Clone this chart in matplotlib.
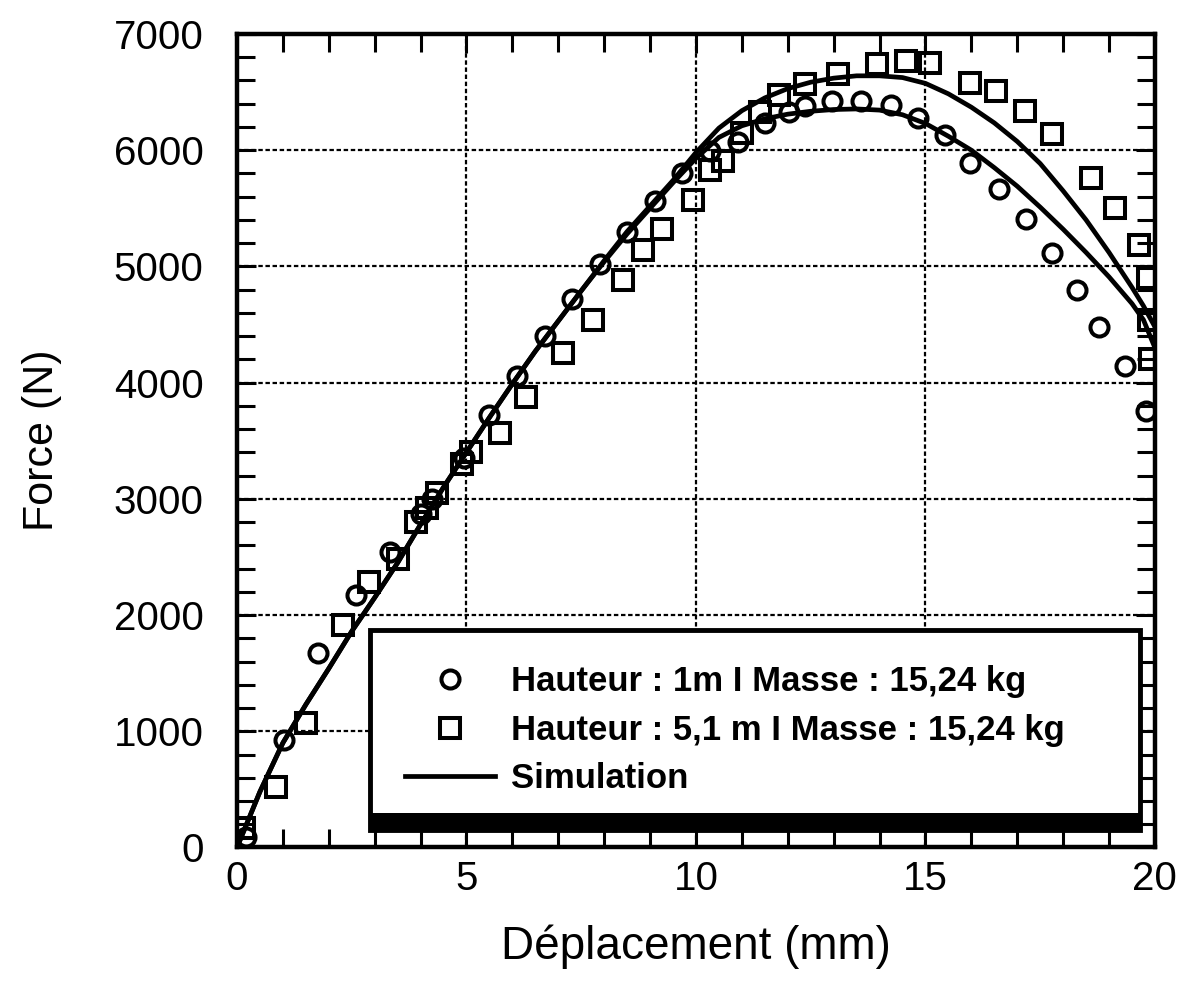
import matplotlib
matplotlib.use("Agg")
import matplotlib.pyplot as plt
from matplotlib.ticker import MultipleLocator, FixedLocator
from matplotlib.patches import Rectangle

plt.rcParams['font.family'] = ['Liberation Sans', 'DejaVu Sans']

# ---------------- data ----------------
x_label = "Déplacement (mm)"
y_label = "Force (N)"
label_h1 = "Hauteur : 1m I Masse : 15,24 kg"
label_h51 = "Hauteur : 5,1 m I Masse : 15,24 kg"
label_sim = "Simulation"

x_ticks = [0, 5, 10, 15, 20]
y_ticks = [0, 1000, 2000, 3000, 4000, 5000, 6000, 7000]

# Hauteur 1 m (circles)
h1_x = [0.2, 1.03, 1.76, 2.59, 3.33, 4.0, 4.25, 4.95, 5.5, 6.1, 6.7, 7.3, 7.9,
        8.5, 9.1, 9.7, 10.3, 10.92, 11.51, 12.03, 12.37, 12.96, 13.6, 14.24,
        14.83, 15.43, 15.98, 16.6, 17.2, 17.75, 18.3, 18.78, 19.35, 19.8]
h1_y = [90, 925, 1670, 2170, 2545, 2870, 3000, 3350, 3720, 4060, 4400, 4720,
        5020, 5300, 5560, 5800, 5990, 6070, 6230, 6330, 6380, 6420, 6420, 6390,
        6275, 6130, 5890, 5670, 5405, 5115, 4800, 4480, 4140, 3760]

# Hauteur 5,1 m (squares)
h51_x = [0.15, 0.85, 1.5, 2.3, 2.88, 3.5, 3.9, 4.15, 4.35, 4.9, 5.1, 5.72, 6.3,
         7.1, 7.75, 8.41, 8.84, 9.27, 9.93, 10.3, 10.6, 11.0, 11.4, 11.81,
         12.37, 13.09, 13.94, 14.58, 15.09, 15.98, 16.54, 17.17, 17.75, 18.6,
         19.13, 19.66, 19.85, 19.88, 19.9]
h51_y = [170, 523, 1068, 1914, 2287, 2480, 2800, 2920, 3050, 3300, 3400, 3563,
         3878, 4251, 4538, 4882, 5140, 5326, 5570, 5830, 5910, 6150, 6330, 6479,
         6566, 6653, 6740, 6769, 6754, 6580, 6508, 6334, 6140, 5760, 5500, 5180,
         4900, 4540, 4200]

# Simulation curves (lower and upper)
simA_x = [0, 0.5, 1.0, 1.5, 2.0, 2.5, 3.0, 3.5, 4.0, 4.5, 5.0, 5.5, 6.0, 6.5,
          7.0, 7.5, 8.0, 8.5, 9.0, 9.5, 10.0, 10.5, 11.0, 11.5, 12.0, 12.5,
          13.0, 13.5, 14.0, 14.5, 15.0, 15.5, 16.0, 16.5, 17.0, 17.5, 18.0,
          18.5, 19.0, 19.5, 19.75, 20.0]
simA_y = [0, 480, 900, 1230, 1540, 1860, 2150, 2450, 2780, 3100, 3400, 3700,
          3990, 4270, 4530, 4790, 5040, 5280, 5500, 5720, 5930, 6110, 6210, 6270,
          6310, 6335, 6350, 6355, 6345, 6305, 6230, 6120, 6000, 5850, 5690, 5510,
          5320, 5120, 4910, 4680, 4540, 4300]
simB_x = [0, 0.5, 1.0, 1.5, 2.0, 2.5, 3.0, 3.5, 4.0, 4.5, 5.0, 5.5, 6.0, 6.5,
          7.0, 7.5, 8.0, 8.5, 9.0, 9.5, 10.0, 10.5, 11.0, 11.5, 12.0, 12.5,
          13.0, 13.5, 14.0, 14.5, 15.0, 15.5, 16.0, 16.5, 17.0, 17.5, 18.0,
          18.5, 19.0, 19.5, 19.75, 20.0]
simB_y = [0, 480, 900, 1230, 1540, 1860, 2150, 2450, 2780, 3100, 3400, 3700,
          3990, 4270, 4530, 4790, 5050, 5300, 5520, 5740, 5980, 6190, 6340, 6450,
          6530, 6585, 6620, 6640, 6640, 6625, 6575, 6485, 6370, 6235, 6075, 5885,
          5650, 5400, 5120, 4820, 4660, 4480]

# ---------------- figure ----------------
fig = plt.figure(figsize=(11.82, 9.85), dpi=100)
ax = fig.add_axes([0.2005, 0.1396, 0.7766, 0.8259])

ax.set_xlim(0, 20)
ax.set_ylim(0, 7000)

ax.grid(True, which='major', color='black', linestyle=(0, (2, 1.2)),
        linewidth=1.6, zorder=1)
ax.set_axisbelow(True)

ax.plot(simA_x, simA_y, color='black', lw=3.4, zorder=3)
ln_sim, = ax.plot(simB_x, simB_y, color='black', lw=3.4, zorder=3, label=label_sim)
ln_h1, = ax.plot(h1_x, h1_y, linestyle='none', marker='o', ms=13,
                 mfc='none', mec='black', mew=2.9, zorder=4, label=label_h1)
ln_h51, = ax.plot(h51_x, h51_y, linestyle='none', marker='s', ms=14,
                  mfc='none', mec='black', mew=2.9, zorder=4, label=label_h51)

ax.xaxis.set_major_locator(FixedLocator(x_ticks))
ax.yaxis.set_major_locator(FixedLocator(y_ticks))
ax.xaxis.set_minor_locator(MultipleLocator(1))
ax.yaxis.set_minor_locator(MultipleLocator(200))
ax.set_xticklabels([str(v) for v in x_ticks])
ax.set_yticklabels([str(v) for v in y_ticks])

ax.tick_params(which='both', direction='in', top=True, right=True,
               width=2.2, color='black')
ax.tick_params(which='major', length=14)
ax.tick_params(which='minor', length=13)
ax.tick_params(axis='x', which='major', labelsize=29, pad=9)
ax.tick_params(axis='y', which='major', labelsize=29, pad=24)

for sp in ax.spines.values():
    sp.set_linewidth(3.2)
    sp.set_color('black')

ax.set_xlabel(x_label, fontsize=33)
ax.xaxis.set_label_coords(0.5, -0.095)
ax.set_ylabel(y_label, fontsize=31, va='center')
ax.yaxis.set_label_coords(-0.212, 0.5)

leg = ax.legend(handles=[ln_h1, ln_h51, ln_sim], loc='lower left',
                bbox_to_anchor=(0.145, 0.0215, 0.839, 0.3), mode='expand',
                borderaxespad=0, fancybox=False, framealpha=1,
                edgecolor='black', prop={'weight': 'bold', 'size': 25},
                handlelength=2.6, handletextpad=0.45, labelspacing=0.45,
                borderpad=1.0)
leg.get_frame().set_linewidth(3.5)
leg.set_zorder(5)

ax.add_patch(Rectangle((0.145, 0.0215), 0.839, 0.021, transform=ax.transAxes,
                       facecolor='black', edgecolor='none', zorder=6,
                       clip_on=False))

fig.savefig("out.png", dpi=100, facecolor='white')
